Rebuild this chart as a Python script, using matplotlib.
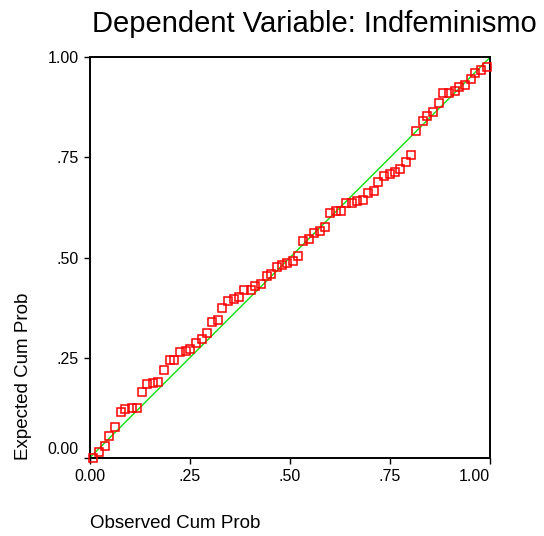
import matplotlib
matplotlib.use("Agg")
import matplotlib.pyplot as plt
from matplotlib.ticker import FixedLocator, FixedFormatter

plt.rcParams['font.family'] = ['Liberation Sans', 'DejaVu Sans']

# P-P plot of regression standardized residuals
observed = [0.008, 0.023, 0.038, 0.048, 0.063, 0.078, 0.088, 0.104, 0.118, 0.129,
            0.143, 0.158, 0.170, 0.184, 0.199, 0.211, 0.225, 0.239, 0.251, 0.265,
            0.280, 0.292, 0.306, 0.321, 0.331, 0.346, 0.360, 0.373, 0.386, 0.402,
            0.413, 0.427, 0.442, 0.453, 0.468, 0.480, 0.493, 0.507, 0.519, 0.533,
            0.548, 0.561, 0.574, 0.588, 0.600, 0.614, 0.628, 0.641, 0.655, 0.668,
            0.682, 0.696, 0.710, 0.721, 0.736, 0.751, 0.763, 0.776, 0.790, 0.802,
            0.816, 0.832, 0.843, 0.858, 0.872, 0.883, 0.898, 0.912, 0.923, 0.938,
            0.953, 0.963, 0.978, 0.993]
expected = [0.000, 0.014, 0.029, 0.054, 0.076, 0.113, 0.121, 0.124, 0.124, 0.165,
            0.183, 0.187, 0.190, 0.219, 0.245, 0.245, 0.264, 0.267, 0.271, 0.286,
            0.297, 0.311, 0.338, 0.345, 0.375, 0.392, 0.397, 0.401, 0.418, 0.418,
            0.429, 0.433, 0.455, 0.458, 0.477, 0.481, 0.486, 0.492, 0.503, 0.540,
            0.546, 0.561, 0.566, 0.576, 0.610, 0.616, 0.616, 0.636, 0.636, 0.641,
            0.644, 0.661, 0.665, 0.690, 0.703, 0.708, 0.714, 0.721, 0.739, 0.756,
            0.816, 0.841, 0.853, 0.863, 0.886, 0.911, 0.911, 0.917, 0.926, 0.931,
            0.946, 0.962, 0.969, 0.977]

ticks = [0.0, 0.25, 0.5, 0.75, 1.0]
x_tick_labels = ['0.00', '.25', '.50', '.75', '1.00']
y_tick_labels = ['0.00', '.25', '.50', '.75', '1.00']

W, H = 544, 536
fig = plt.figure(figsize=(W / 100, H / 100), dpi=100)
ax = fig.add_axes([90 / W, (H - 457.5) / H, 400 / W, 400 / H])

ax.plot([0, 1], [0, 1], color='#22e022', lw=1.1, zorder=2)
ax.plot(observed, expected, linestyle='none', marker='s', markersize=5.5,
        markerfacecolor='none', markeredgecolor='#ff0000', markeredgewidth=1.1,
        clip_on=False, zorder=3)

ax.set_xlim(0, 1)
ax.set_ylim(0, 1)
for s in ax.spines.values():
    s.set_linewidth(1.4)
    s.set_color('black')

ax.xaxis.set_major_locator(FixedLocator(ticks))
ax.xaxis.set_major_formatter(FixedFormatter(x_tick_labels))
ax.yaxis.set_major_locator(FixedLocator(ticks))
ax.yaxis.set_major_formatter(FixedFormatter(y_tick_labels))
ax.tick_params(direction='out', length=4, width=1.0, labelsize=11.5, pad=4)

# keep the corner labels off the axes
ylabs = ax.get_yticklabels()
ylabs[0].set_va('bottom')
xlabs = ax.get_xticklabels()
xlabs[-1].set_ha('right')

fig.text(92 / W, 1 - 24 / H, 'Dependent Variable: Indfeminismo',
         fontsize=21, ha='left', va='center')
fig.text(24 / W, (H - 460) / H, 'Expected Cum Prob', fontsize=13.5,
         rotation=90, ha='center', va='bottom')
fig.text(90 / W, 1 - 523 / H, 'Observed Cum Prob', fontsize=13.5,
         ha='left', va='center')

fig.savefig('out.png', dpi=100, facecolor='white')
